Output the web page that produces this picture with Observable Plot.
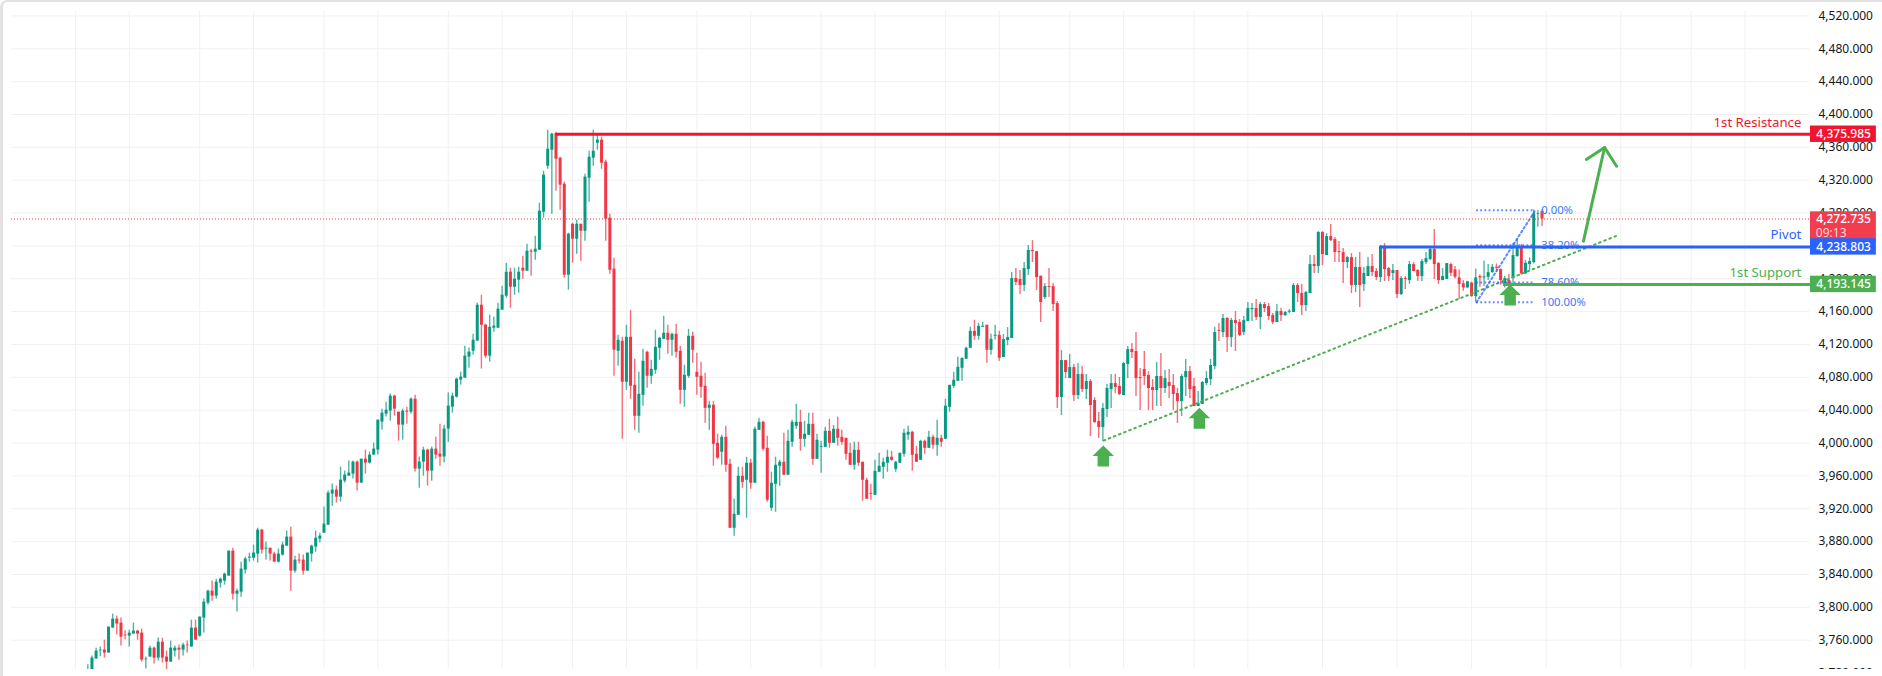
<!DOCTYPE html>
<html><head><meta charset="utf-8">
<script src="https://cdn.jsdelivr.net/npm/d3@7"></script>
<script src="https://cdn.jsdelivr.net/npm/@observablehq/plot@0.6"></script>
<style>
html,body{margin:0;padding:0;background:#fff;overflow:hidden;width:1882px;height:676px}
#chart{position:absolute;left:0;top:0}
#chart svg{display:block}
#edge{position:absolute;left:0;top:0;width:1920px;height:720px;box-sizing:border-box;border-left:3px solid #e2e2e2;border-top:2px solid #e2e2e2;border-top-left-radius:7px;pointer-events:none}
#foot{position:absolute;left:3px;top:669px;width:1879px;height:7px;background:#fff}
</style></head><body>
<div id="chart"></div><div id="foot"></div><div id="edge"></div>
<script>
const bodyHigh=[
3722,3738.2,3746.7,3747.9,3748,3775.9,3785.6,3785.6,3780.8,3766.2,
3768.6,3771,3771,3768.6,3737,3750.3,3750.3,3757.6,3757.6,3739.4,
3750.3,3750.3,3750.3,3754,3754,3774.7,3774.7,3788.1,3806.3,3819.7,
3819.7,3830.7,3834.3,3840.4,3868.4,3868.4,3819.7,3846.5,3858.7,3861.1,
3866,3894,3894,3872,3872,3864.8,3864.8,3875.7,3885.5,3885.5,
3857.5,3857.5,3857.5,3866,3874.5,3884.2,3886.7,3901.3,3939,3942.7,
3942.7,3954.9,3961,3963.4,3976.8,3976.8,3980.4,3980.4,3985.3,3992.6,
4027.9,4036.4,4040,4057.1,4057.1,4037.6,4038.9,4038.9,4053.5,4053.5,
3976.8,3991.4,3991.4,3992.6,3992.6,3986.5,4017,4045,4057.1,4077.8,
4080.3,4105.8,4110.7,4125.2,4167.8,4167.8,4143.5,4141,4142.3,4163,
4180,4208,4208,4199.5,4208,4212.9,4233.6,4233.6,4236,4282.3,
4326.1,4357.7,4376,4376.8,4346.8,4315.1,4254.3,4266.4,4266.4,4266.4,
4323.7,4348,4355.3,4368.7,4368.7,4341.9,4273.7,4211.7,4125.1,4123.9,
4128.8,4128.8,4070.3,4059.4,4099.5,4110.5,4089.8,4116.6,4127.5,4133.6,
4133.6,4132.4,4132.4,4111.7,4082.5,4130,4130,4086.1,4081.3,4069.1,
4046,4046,3999.7,4007,4007,3974.1,3913.3,3959.5,3959.5,3975.4,
3975.4,4016.8,4025.3,4025.3,3993.6,3951,3972.9,3976.6,3976.6,4002.1,
4025.3,4025.3,4025.3,4010.7,4022.8,4022.8,4003.4,3996,4014.3,4014.3,
4016.8,4016.8,4007,4005.8,3987.5,3991.2,3991.2,3976.6,3954.7,3938.8,
3965.6,3971.7,3976.6,3982.7,3982.7,3976.6,3987.5,4011.9,4013.1,4013.1,
3986.3,4002.1,4002.1,4007,4007,4005.8,4005.8,4044.8,4070.3,4076.4,
4092.2,4103.2,4115.4,4136,4136,4142.1,4142.1,4143.4,4126.3,4131.2,
4131.2,4126,4128.4,4200.3,4200.3,4199.1,4212.4,4234.4,4234.4,4233.1,
4203.1,4190.5,4190.5,4190.5,4169.8,4100.4,4100.4,4091.9,4091.9,4083.4,
4083.4,4074.9,4074.9,4051.8,4026.2,4042,4066.4,4072.4,4072.4,4068.8,
4096.8,4113.8,4113.8,4111.4,4079.7,4089.5,4082.2,4067.6,4081,4081,
4078.5,4073.7,4070,4060.3,4081,4087,4087,4068.8,4048.1,4073.7,
4078.5,4094.4,4134.5,4136.8,4151.6,4151.6,4149.1,4149.1,4146.7,4149.1,
4163.8,4163.8,4163.8,4168.6,4168.6,4166.2,4155.2,4160.1,4160.1,4158.9,
4160.5,4191.8,4191.8,4182,4183.2,4217.3,4217.3,4256.3,4256.3,4251.4,
4251.4,4247.8,4233.1,4231.9,4225.8,4225.8,4213.7,4213.7,4206.4,4214.9,
4214.9,4208.8,4239.6,4239.6,4212.4,4210,4210,4200.3,4200.3,4217.3,
4217.3,4210,4221,4224.6,4235.6,4235.6,4218.5,4202.7,4218.5,4217.3,
4210.8,4201,4193.8,4196.2,4194.6,4201,4202.7,4202.3,4207.5,4214,
4214,4211.2,4200.2,4197.8,4228.2,4239.2,4239.2,4218.9,4221,4279,4279,4282.2];
const bodyLow=[
3712,3716,3737,3747,3744.3,3744.3,3774.7,3779.6,3763.7,3765.4,
3764.9,3767.4,3767.4,3735.7,3736.1,3739.4,3738.2,3738.2,3738.2,3733.3,
3733.3,3746.7,3747.9,3747.9,3753.2,3751.6,3760.1,3764.9,3786.9,3805.1,
3813.6,3813.6,3829.5,3831.9,3838,3816,3816,3818.5,3845.3,3859.9,
3859.9,3864.8,3869.6,3870.9,3864.8,3855,3855,3863.6,3874.5,3844,
3844,3856.3,3844,3844,3864.8,3873.3,3883,3890.3,3900,3937.8,
3934.2,3934.2,3953.6,3959.7,3962.2,3951.2,3951.2,3975.6,3975.6,3985.3,
3991.4,4025.5,4035.2,4038.9,4041.3,4021.8,4021.8,4037.6,4037.6,3968.3,
3968.3,3976.8,3965.8,3965.8,3985.3,3982.9,3982.9,4017,4043.7,4055.9,
4076.6,4079,4104.6,4111.8,4124,4143.5,4105.8,4105.8,4139.8,4139.8,
4161.8,4178.8,4189.7,4189.7,4198.3,4209.2,4209.2,4232.4,4232.4,4234.8,
4281,4337,4356.5,4345.6,4314,4204.4,4204.4,4248.2,4248.2,4257.9,
4257.9,4322.4,4346.8,4365,4340.7,4272.5,4210.4,4113,4111.7,4074,
4074,4069.1,4032.6,4032.6,4058.1,4081.3,4081.3,4088.6,4115.4,4126.3,
4125.1,4125.1,4110.5,4064.2,4064.2,4081.3,4112.9,4080,4067.9,4042.3,
4042.3,3998.5,3981.5,3988.8,3972.9,3896.2,3896.2,3912,3952.2,3954.7,
3951,3951,4015.5,3992.4,3930.3,3920.6,3949.8,3971.7,3960.8,3960.8,
4000.9,4020.4,4004.6,4004.6,4009.5,3980.2,3980.2,3994.8,3994.8,3999.7,
3999.7,4005.8,4000.9,3986.3,3972.9,3972.9,3975.4,3954.7,3931.5,3937.6,
3936.4,3964.4,3970.5,3975.4,3979,3968,3975.4,3986.3,4009.5,3985.1,
3976.6,3979,3993.6,3993.6,3997.3,3997.3,4000.9,4004.6,4043.5,4069.1,
4075.2,4091,4102,4115.4,4130,4130,4140.9,4112.9,4112.9,4130,
4103.2,4104.1,4124.8,4127.2,4195.4,4191.8,4191.8,4211.2,4233.1,4201.5,
4171,4177.1,4189.3,4168.6,4055.4,4055.4,4085.8,4078.5,4057.8,4057.8,
4065.1,4065.1,4045.7,4025,4018.9,4018.9,4040.8,4065.1,4067.6,4059.1,
4057.8,4095.6,4110.2,4078.5,4078.5,4081,4066.4,4063.9,4063.9,4066.4,
4066.4,4068.8,4059.1,4050.5,4050.5,4079.7,4065.1,4044.4,4044.4,4046.9,
4072.4,4077.3,4093.1,4135.8,4134.5,4128.4,4128.4,4145.5,4130.9,4134.5,
4147.9,4162.5,4152.8,4152.8,4163.8,4154,4146.7,4146.7,4155.2,4155.2,
4159.3,4158.9,4182,4167.4,4167.4,4182,4214.9,4214.9,4229.5,4228.3,
4246.5,4231.9,4231.9,4219.8,4219.8,4191.8,4191.8,4191.8,4193,4202.7,
4207.6,4201.5,4201.5,4211.2,4202.7,4206.4,4180.8,4180.8,4199.1,4197.8,
4208.8,4202.7,4202.7,4219.8,4223.4,4217.3,4197.8,4197.8,4199.1,4206.7,
4201.9,4193,4188.9,4188.9,4178.3,4178.3,4201,4201,4201.9,4207.5,
4212.8,4197.8,4193,4193.8,4200.2,4227,4206,4206,4217.3,4219.7,4278.2,4272.7];
const wickHigh=[
3730,3740.6,3750.3,3751.6,3760.1,3775.9,3791.7,3789.3,3786.9,3771.4,
3772.2,3780.8,3772,3773.5,3739.4,3752.8,3751.6,3762.5,3762.5,3746.7,
3758.9,3752.8,3754,3756.4,3758.9,3784.4,3784.4,3788.1,3810,3820.9,
3831.9,3834.3,3835.6,3841.6,3868.4,3872,3822.2,3855,3861.1,3866,
3875.7,3896.4,3895.2,3879.4,3872,3867.2,3870.9,3879.4,3892.8,3897.6,
3862.3,3864.8,3863.6,3866,3875.7,3892.8,3890.3,3922,3941.5,3950,
3947.6,3970.7,3965.8,3978,3978,3978,3980.4,3991.4,3989,3999.9,
4027.9,4041.3,4049.8,4059.6,4058.3,4037.6,4041.3,4043.7,4054.7,4058.3,
3982.9,3995,3992.6,3995,4007.2,4023,4021.8,4060.8,4060.8,4079,
4086.3,4118,4115.6,4132.5,4170.3,4180,4144.7,4155.7,4153.2,4170.3,
4191,4219,4212.9,4212.9,4214.1,4227.5,4242.1,4236,4251.8,4292,
4331,4380.9,4377.2,4378.4,4348,4317.6,4255.5,4267.7,4271.3,4266.4,
4327.3,4355.3,4380.9,4376,4372.4,4344.4,4278.6,4225,4131.2,4128.8,
4143.4,4161.6,4102,4086.1,4114.1,4111.7,4100.8,4137.3,4128.8,4154.3,
4143.4,4133.6,4144.6,4117.8,4094.7,4138.5,4134.8,4109.3,4098.3,4084.9,
4050.8,4050.8,4010.7,4009.5,4020.4,3980.2,3931.5,3970.5,3970.5,3982.7,
3980.2,4019.2,4030.1,4026.5,4008.2,3964.4,3982.7,3979,4011.9,4015.5,
4027.7,4047.2,4039.9,4026.5,4036.2,4036.2,4010.7,4002.1,4019.2,4028.9,
4021.6,4031.4,4015.5,4005.8,3999.7,4000.9,4000.9,3976.6,3957.1,3949.8,
3979,3987.5,3981.5,3991.2,3990,3977.8,3987.5,4016.8,4020.4,4014.3,
3996,4003.4,4003.4,4014.3,4009.5,4027.7,4009.5,4053.3,4070.3,4086.1,
4104.4,4103.2,4116.6,4140.9,4149.5,4145.8,4147,4143.4,4132.4,4143.4,
4136,4132.1,4140.6,4207.6,4212.4,4210,4219.8,4240.4,4246.5,4233.1,
4203.1,4194.2,4212.4,4194.2,4172.3,4112.6,4100.4,4107.7,4095.6,4096.8,
4093.1,4083.4,4077.3,4055.4,4037.1,4048.1,4071.2,4083.4,4083.4,4079.8,
4098,4117.5,4121.1,4134.5,4090.7,4111.4,4087,4077.3,4098,4109,
4088.3,4089.5,4083.4,4066.4,4083.4,4101.7,4093.1,4078.5,4062.7,4074.9,
4087,4101.7,4140.6,4145.5,4156.4,4152.8,4151.6,4160.1,4150.4,4154,
4171.1,4169.8,4174.7,4171.1,4171.1,4169.8,4157.7,4168.6,4163.8,4160.1,
4162.5,4194.2,4194.2,4193,4184.4,4228.3,4228.3,4257.5,4257.5,4255,
4266,4250.2,4245.3,4236.8,4227,4230.7,4225.8,4231.9,4213.7,4225.8,
4229.5,4212.4,4240.4,4242.9,4213.7,4217.3,4210,4202.7,4202.7,4221,
4219.8,4211.2,4223.4,4231.9,4238,4259.9,4219.8,4212.4,4218.5,4218.9,
4214.9,4210.8,4197.8,4197,4196.2,4212,4205,4221.3,4217.3,4217.3,
4218.1,4212,4202.7,4205.1,4243.3,4247.7,4241.6,4222.2,4225.4,4283.8,4283,4283.8];
const wickLow=[
3708,3710,3737,3739.8,3738.2,3744.3,3774.7,3766.2,3752.8,3760.1,
3751.6,3767.4,3760,3733.3,3724.8,3739.4,3730.9,3734.5,3732.1,3724,
3733.3,3739.4,3735.7,3740.6,3744.3,3751.6,3760.1,3763.7,3768.6,3802.7,
3807.5,3810,3823.4,3827,3838,3808.8,3794.2,3812.4,3840.4,3855,
3856.3,3853.8,3864.8,3857.5,3856.3,3855,3853.8,3862.3,3874.5,3819.7,
3841.6,3852.6,3839.2,3844,3855,3867.2,3878.2,3890.3,3900,3923.2,
3926.9,3928.1,3951.2,3959.7,3956.1,3941.5,3951.2,3962.2,3974.3,3985.3,
3985.3,4015.7,4031.6,4026.7,4032.8,4002.3,4003.6,4023,4035.2,3964.6,
3945.1,3959.7,3947.6,3953.6,3980.4,3971.9,3975.6,4000.7,4036.4,4054.7,
4070.5,4079,4091.2,4107,4124,4090,4103.3,4098.4,4135,4139.8,
4161.8,4176.4,4164.2,4180,4182.4,4199.5,4209.2,4203.1,4222.6,4234.8,
4273.7,4333.4,4278.6,4306.6,4283.5,4200.7,4186.1,4219,4229.9,4221.4,
4245.7,4293.2,4337,4356.5,4333.4,4245.7,4205.6,4081.4,4093.5,4004.6,
4064.2,4053.3,4015.5,4011.9,4044.8,4066.7,4071.5,4083.7,4100.8,4126.3,
4108.1,4105.6,4103.2,4047.2,4043.5,4078.8,4097.1,4058.1,4054.5,4024.1,
4015.5,3971.7,3980.2,3972.9,3964.4,3896.2,3886.5,3912,3944.9,3908.4,
3943.7,3951,4015.5,3990,3927.9,3916.9,3915.7,3947.4,3960.8,3960.8,
3994.8,4016.8,3990,3994.8,4009.5,3972.9,3980.2,3963.2,3994.8,3993.6,
3999.7,3996,3997.3,3979,3972.9,3966.8,3971.7,3929.1,3931.5,3930.3,
3936.4,3964.4,3955.9,3964.4,3977.8,3964.4,3975.4,3982.7,4003.4,3965.6,
3976.6,3979,3986.3,3993.6,3992.4,3983.9,3994.8,4004.6,4037.5,4066.7,
4075.2,4075.2,4102,4115.4,4125.1,4125.1,4140.9,4097.1,4106.8,4125.1,
4099.5,4104.1,4118.7,4127.2,4191.8,4180.8,4184.4,4203.9,4219.8,4185.7,
4146.7,4174.7,4177.1,4160.1,4042,4033.5,4078.5,4078.5,4050.5,4053,
4061.5,4053,4007.9,4023.8,4005.5,4001.8,4031,4042,4060.3,4057.8,
4057.8,4078.5,4102.9,4056.6,4039.6,4070,4039.6,4039.6,4044.4,4044.4,
4060.3,4054.2,4039.6,4023.8,4032.3,4056.6,4054.2,4044.4,4044.4,4046.9,
4070,4070,4089.5,4123.6,4128.4,4110.2,4116.3,4111.4,4129.7,4130.9,
4147.9,4147.9,4149.1,4138.2,4158.9,4149.1,4144.3,4146.7,4147.9,4154,
4157.7,4158.9,4171,4155.2,4160.1,4182,4206.4,4206.4,4216.1,4228.3,
4245.3,4219.8,4219.8,4194.2,4212.4,4182,4183.2,4165,4184.4,4202.7,
4202.7,4197.8,4195.4,4196.6,4196.6,4197.8,4175.9,4179.6,4186.9,4193,
4208.8,4196.6,4196.6,4217.3,4222.2,4199.1,4193,4197.8,4199.1,4202.7,
4199.8,4174.7,4184.8,4188,4177.5,4171.4,4189.7,4190.5,4197.8,4206.7,
4208,4192.1,4188.9,4188.9,4193.8,4226.2,4204.3,4205.1,4210,4218.1,4262.7,4263.5];
const direction=[
"uuuuduuddd","uudduududd","uudududuuu","duuuuduuuu","uududduuud","udduuuuuuu",
"duuuududuu","uuuuddudud","uududduuuu","uuuuudduuu","uuduududuu","uuudddudud","uuuuddddud","udduuduuuu","dudduudddd",
"uddudduudu","duudduuudu","uuduuduuud","uddddudddd","uuuuduuuud","dudududuuu",
"uuuuduuduu","duuudduudd","dudddududu","duddduuudd","uuddddddud","uddduudduu","uuudududdu","uududddudu","uudduududu",
"ddddududuu","dduddududu","dduuudduud","dddududuuu","dduduuduuuud"].join("").split("");
const axisTicks=[3720,3760,3800,3840,3880,3920,3960,4000,4040,4080,4120,4160,4200,4240,4280,4320,4360,4400,4440,4480,4520];
const gridIndex=[-3,10,27,40,57,70,87,100,117,130,147,160,177,190,207,220,237,250,267,280,298,316,334,352,370,387,400];
const levels=[{name:"1st Resistance",price:4375.985,from:113,color:"#f0142e",labelY:4390.3},
              {name:"Pivot",price:4238.803,from:312,color:"#2962ff",labelY:4253.9},
              {name:"1st Support",price:4193.145,from:341.7,color:"#4caf50",labelY:4206.8}];
const currentPrice=4272.735, countdown="09:13";
const fibLevels=[{t:"0.00%",p:4283.5},{t:"38.20%",p:4240.7},{t:"78.60%",p:4195.5},{t:"100.00%",p:4171.5}];
const fibDiagonal=[{i:335.2,p:4171.5},{i:349.4,p:4283.5}];
const trend=[{i:245.2,p:4003},{i:369.2,p:4252.7}];
const shaft=[{i:361,p:4245.8},{i:366.1,p:4359.8}];
const head=[{i:361.7,p:4345.2},{i:366.1,p:4359.8},{i:369,p:4337}];
const upMarks=[{i:245.1,p:3997},{i:268.3,p:4043},{i:343.3,p:4193}];

const UP="#089981",DOWN="#f23645",GREEN="#4caf50",BLUE="#2962ff";
const XMIN=-18.42,XMAX=415.8,BOX1=415.8,BOX2=431.7,BOXC=423.8;
const idx=d3.range(bodyHigh.length);
const col=i=>direction[i]==="u"?UP:DOWN;
const fmt=v=>d3.format(",.3f")(v);
const FONT="'Noto Sans',sans-serif";
const upArrow={draw(c){c.moveTo(0,0);c.lineTo(10.7,10.5);c.lineTo(5.7,10.5);c.lineTo(5.7,21);c.lineTo(-5.7,21);c.lineTo(-5.7,10.5);c.lineTo(-10.7,10.5);c.closePath();}};

const chart=Plot.plot({
  width:1882,height:676,marginLeft:11,marginRight:72,marginTop:11,marginBottom:7,
  style:{background:"#fff",fontFamily:FONT,overflow:"visible"},
  x:{domain:[XMIN,XMAX],axis:null},
  y:{domain:[3724.3,4525.4]},
  color:{type:"identity"},
  marks:[
    Plot.ruleY(axisTicks,{stroke:"#f1f1f1",strokeWidth:1,clip:true}),
    Plot.ruleX(gridIndex,{stroke:"#f1f1f1",strokeWidth:1}),
    Plot.axisY(axisTicks,{anchor:"right",tickSize:0,tickPadding:8,label:null,tickFormat:fmt,fontSize:12,fill:"#131722"}),
    Plot.ruleX(idx,{x:i=>i,y1:i=>wickLow[i],y2:i=>wickHigh[i],stroke:col,strokeWidth:1.4,strokeOpacity:0.72,clip:true}),
    Plot.ruleX(idx,{x:i=>i,y1:i=>bodyLow[i],y2:i=>bodyHigh[i],stroke:col,strokeWidth:3,clip:true}),
    Plot.ruleY([currentPrice],{x1:XMIN,x2:XMAX,stroke:DOWN,strokeWidth:1,strokeDasharray:"1 2"}),
    Plot.line(trend,{x:"i",y:"p",stroke:GREEN,strokeWidth:2,strokeDasharray:"1.6 3.9"}),
    Plot.ruleY(fibLevels,{y:"p",x1:335.2,x2:349.4,stroke:BLUE,strokeOpacity:.75,strokeWidth:2,strokeDasharray:"1.8 2.4"}),
    Plot.line(fibDiagonal,{x:"i",y:"p",stroke:BLUE,strokeOpacity:.75,strokeWidth:2,strokeDasharray:"1.8 2.8"}),
    Plot.text(fibLevels,{x:350.8,y:"p",text:"t",textAnchor:"start",fill:"#3d78f5",fontSize:11.3}),
    Plot.ruleY(levels,{y:"price",x1:"from",x2:XMAX,stroke:"color",strokeWidth:3}),
    Plot.dot(upMarks,{x:"i",y:"p",symbol:upArrow,r:5,fill:GREEN,stroke:"none"}),
    Plot.line(shaft,{x:"i",y:"p",stroke:GREEN,strokeWidth:3}),
    Plot.line(head,{x:"i",y:"p",stroke:GREEN,strokeWidth:3}),
    Plot.text(levels,{x:413.6,y:"labelY",text:"name",fill:"color",textAnchor:"end",fontSize:13.2}),
    Plot.rect([{a:4281.5,b:4244.5}],{x1:BOX1,x2:BOX2,y1:"a",y2:"b",fill:"#f23d4f"}),
    Plot.rect(levels,{x1:BOX1,x2:BOX2,y1:d=>d.price-10,y2:d=>d.price+10,fill:"color"}),
    Plot.text(levels,{x:BOXC,y:"price",text:d=>fmt(d.price),fill:"#fff",fontSize:12,fontWeight:500}),
    Plot.text([currentPrice],{x:BOXC,y:d=>d,text:fmt,fill:"#fff",fontSize:12,fontWeight:500}),
    Plot.text([countdown],{x:BOXC-3,y:4255.5,text:d=>d,fill:"#ffd5da",fontSize:12})
  ]
});
document.getElementById("chart").appendChild(chart);
</script>
</body></html>
